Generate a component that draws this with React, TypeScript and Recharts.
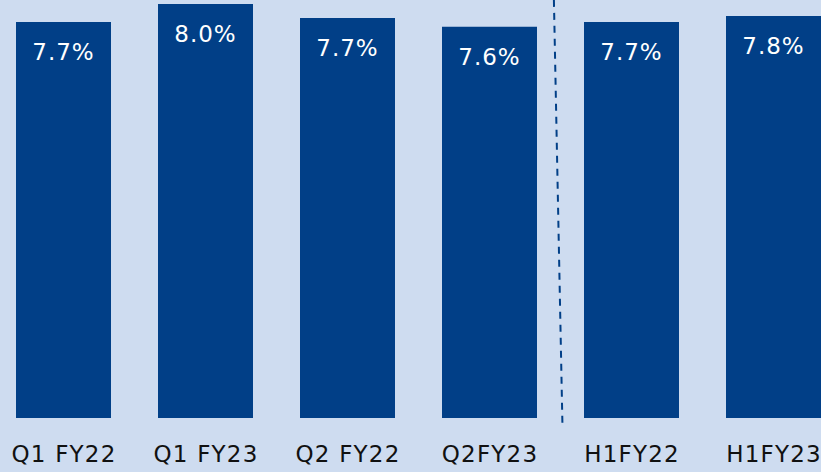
import { BarChart, Bar, XAxis, YAxis, LabelList, ReferenceLine } from 'recharts';

const categories = ['Q1 FY22', 'Q1 FY23', 'Q2 FY22', 'Q2FY23', 'H1FY22', 'H1FY23'];
const values = [7.65, 8.0, 7.73, 7.56, 7.65, 7.77];
const valueLabels = ['7.7%', '8.0%', '7.7%', '7.6%', '7.7%', '7.8%'];

const data = categories.map((name, idx) => ({ idx, name, value: values[idx], label: valueLabels[idx] }));

const BG = '#cedcf0';
const BAR = '#013f87';
const FONT = '"DejaVu Sans", Verdana, sans-serif';

function CategoryTick({ x, y, payload }: { x?: number; y?: number; payload?: { value: number } }) {
  return (
    <text
      x={x}
      y={(y ?? 0) + 28}
      textAnchor="middle"
      dominantBaseline="central"
      fill="#111111"
      fontSize={23}
      fontFamily={FONT}
      letterSpacing={1.2}
    >
      {categories[payload?.value ?? 0]}
    </text>
  );
}

function TopLabel(props: any) {
  const { x, y, width, value } = props;
  return (
    <text
      x={x + width / 2}
      y={y + 30}
      textAnchor="middle"
      dominantBaseline="central"
      fill="#ffffff"
      fontSize={23}
      fontFamily={FONT}
      letterSpacing={1}
    >
      {value}
    </text>
  );
}

export default function App() {
  return (
    <div
      style={{
        position: 'fixed',
        left: 0,
        top: 0,
        width: 821,
        height: 472,
        overflow: 'hidden',
        background: BG,
      }}
    >
      <div style={{ position: 'absolute', left: -7, top: 0 }}>
        <BarChart width={852} height={472} data={data} margin={{ top: 4, right: 0, bottom: 0, left: 0 }}>
          <XAxis
            type="number"
            dataKey="idx"
            domain={[-0.5, 5.5]}
            ticks={[0, 1, 2, 3, 4, 5]}
            axisLine={false}
            tickLine={false}
            height={54}
            tick={<CategoryTick />}
          />
          <YAxis hide domain={[0, 8]} allowDataOverflow />
          <Bar dataKey="value" fill={BAR} barSize={95} isAnimationActive={false}>
            <LabelList dataKey="label" content={<TopLabel />} />
          </Bar>
          {/* dashed divider between quarters and half-years */}
          <ReferenceLine
            segment={[
              { x: 3.45, y: 8.08 },
              { x: 3.51, y: -0.12 },
            ]}
            stroke={BAR}
            strokeWidth={2}
            strokeDasharray="7 6"
            ifOverflow="visible"
          />
        </BarChart>
      </div>
    </div>
  );
}
